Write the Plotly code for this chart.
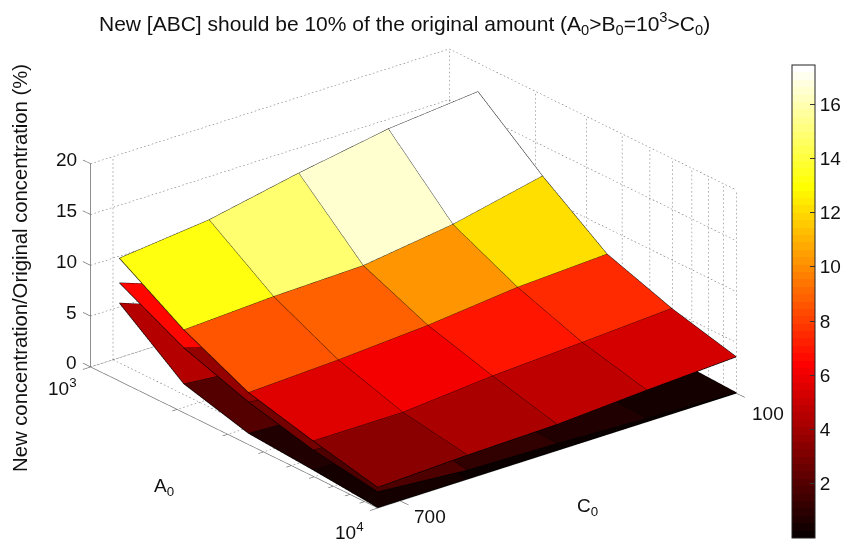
import math
import numpy as np
import plotly.graph_objects as go

# ---------- data ----------
A_nodes = [1259, 2113, 3548, 5957, 10000]
C_nodes = [740, 580, 420, 260, 100]
Z_top = [[12.09, 13.04, 14.81, 16.34, 17.18],
         [8.16, 8.61, 8.83, 10.06, 12.00],
         [5.11, 5.50, 6.08, 7.00, 7.44],
         [3.48, 3.47, 4.22, 4.70, 5.22],
         [2.04, 2.39, 2.58, 3.13, 3.58]]
Z_mid = [[9.66, 6.54, 4.60, 3.20, 2.40],
         [6.38, 3.70, 2.50, 1.80, 1.20],
         [4.19, 2.80, 1.90, 1.20, 0.70],
         [2.59, 1.90, 1.10, 0.70, 0.35],
         [1.60, 0.90, 0.70, 0.34, 0.05]]
Z_low = [[7.68, 4.40, 2.90, 2.00, 1.50],
         [2.84, 2.00, 1.30, 0.90, 0.60],
         [1.10, 0.70, 0.50, 0.30, 0.20],
         [0.62, 0.35, 0.20, 0.12, 0.08],
         [0.05, 0.04, 0.03, 0.02, 0.01]]
z_ticks = [0, 5, 10, 15, 20]
A_ticks = [1000, 2000, 3000, 4000, 5000, 6000, 7000, 8000, 9000, 10000]
C_ticks = [700, 100]
cbar_ticks = [2, 4, 6, 8, 10, 12, 14, 16]
TITLE = "New [ABC] should be 10% of the original amount (A<sub>0</sub>>B<sub>0</sub>=10<sup>3</sup>>C<sub>0</sub>)"
ZLABEL = "New concentration/Original concentration (%)"
CMIN, CMAX = 0.0, 17.44
C_LO, C_HI = 100, 740
A_LO, A_HI = 1000, 10000

# ---------- MATLAB hot(64) ----------
def hot64():
    n = 64; m = 24
    out = []
    for k in range(n):
        r = min((k + 1) / m, 1)
        g = min(max((k + 1 - m) / m, 0), 1)
        b = min(max((k + 1 - 2 * m) / (n - 2 * m), 0), 1)
        c = f"rgb({round(r*255)},{round(g*255)},{round(b*255)})"
        out += [[k / n, c], [(k + 1) / n, c]]
    return out
HOT = hot64()

fig = go.Figure()
GRID = "#666666"; AXC = "#6a6a6a"

def seg(segs, color, width):
    xs, ys, zs = [], [], []
    for (p, q) in segs:
        xs += [p[0], q[0], None]; ys += [p[1], q[1], None]; zs += [p[2], q[2], None]
    fig.add_trace(go.Scatter3d(x=xs, y=ys, z=zs, mode="lines", line=dict(color=color, width=width),
                               hoverinfo="skip", showlegend=False))

def dotted(p, q, period=4.0, on=0.4):
    """Split a grid line into short pieces so it reads as MATLAB's dotted style."""
    fc = (q[0] - p[0]) / (C_HI - C_LO)
    fa = (math.log10(q[1]) - math.log10(p[1]))
    fz = (q[2] - p[2]) / 20
    dx = -359 * fc + 287 * fa
    dy = 115 * fc + 141 * fa - 203 * fz
    n = max(int(math.hypot(dx, dy) / period), 1)
    out = []
    for k in range(n):
        t0, t1 = k / n, (k + on) / n
        def at(t):
            return (p[0] + (q[0] - p[0]) * t,
                    10 ** (math.log10(p[1]) + fa * t),
                    p[2] + (q[2] - p[2]) * t)
        out.append((at(t0), at(t1)))
    return out

# dotted walls and floor
grid = []
for z in z_ticks:
    grid += dotted((C_HI, A_LO, z), (C_LO, A_LO, z))
    grid += dotted((C_LO, A_LO, z), (C_LO, A_HI, z))
for a in A_ticks:
    grid += dotted((C_LO, a, 0), (C_LO, a, 20))
    grid += dotted((C_LO, a, 0), (C_HI, a, 0))
for c in C_ticks:
    grid += dotted((c, A_LO, 0), (c, A_LO, 20))
    grid += dotted((c, A_LO, 0), (c, A_HI, 0))
seg(grid, GRID, 1)

# surfaces
first = True
for Z in (Z_low, Z_mid, Z_top):
    Z = np.array(Z)
    nr, nc = Z.shape
    X, Y = np.meshgrid(C_nodes, A_nodes)
    I, J, K, V = [], [], [], []
    for r in range(nr - 1):
        for c in range(nc - 1):
            a = r * nc + c; b = a + 1; d = a + nc; e = d + 1
            I += [a, a]; J += [b, e]; K += [e, d]
            V += [Z[r, c + 1]] * 2
    tr = dict(x=X.ravel(), y=Y.ravel(), z=Z.ravel(), i=I, j=J, k=K, intensity=V,
              intensitymode="cell", colorscale=HOT, cmin=CMIN, cmax=CMAX, flatshading=True,
              lighting=dict(ambient=1, diffuse=0, specular=0, roughness=1, fresnel=0),
              hoverinfo="skip", showscale=first)
    if first:
        tr["colorbar"] = dict(x=792/843, xanchor="left", xpad=0, ypad=0,
                              y=1-301.5/542, yanchor="middle",
                              thicknessmode="pixels", thickness=23, lenmode="pixels", len=473,
                              tickvals=cbar_ticks, ticks="inside", ticklen=5, tickcolor="#333",
                              outlinecolor="#222", outlinewidth=1,
                              tickfont=dict(family="Liberation Sans", size=19, color="#111"))
    fig.add_trace(go.Mesh3d(**tr))
    first = False
    mesh = []
    for r in range(nr):
        for c in range(nc - 1):
            mesh.append(((C_nodes[c], A_nodes[r], Z[r, c]), (C_nodes[c+1], A_nodes[r], Z[r, c+1])))
    for c in range(nc):
        for r in range(nr - 1):
            mesh.append(((C_nodes[c], A_nodes[r], Z[r, c]), (C_nodes[c], A_nodes[r+1], Z[r+1, c])))
    seg(mesh, "#000000", 1.4)

# axis lines and ticks
ax = [((C_HI, A_LO, 0), (C_HI, A_LO, 20)),
      ((C_HI, A_LO, 0), (C_HI, A_HI, 0)),
      ((C_HI, A_HI, 0), (C_LO, A_HI, 0))]
for z in z_ticks:
    ax.append(((C_HI, A_LO, z), (C_HI, A_LO * 0.94, z)))
for a in A_ticks:
    ln = 14 if a in (A_LO, A_HI) else 9
    ax.append(((C_HI, a, 0), (C_HI + ln, a, 0)))
for c in C_ticks:
    ax.append(((c, A_HI, 0), (c, A_HI * 1.07, 0)))
seg(ax, AXC, 1.3)

font = dict(family="Liberation Sans", size=19, color="#111")
ann3d = []
for z in z_ticks:
    ann3d.append(dict(x=C_HI, y=3, z=z, text=str(z), showarrow=False, xanchor="right",
                      yanchor="middle", xshift=-12, yshift=4, font=font))
ann3d.append(dict(x=C_HI, y=3, z=0, text="10<sup>3</sup>", showarrow=False, xanchor="right",
                  yanchor="middle", xshift=-12, yshift=-20, font=font))
ann3d.append(dict(x=C_HI, y=4, z=0, text="10<sup>4</sup>", showarrow=False, xanchor="right",
                  yanchor="middle", xshift=-12, yshift=-23, font=font))
ann3d.append(dict(x=700, y=4, z=0, text="700", showarrow=False, xanchor="left",
                  yanchor="middle", xshift=12, yshift=-16, font=font))
ann3d.append(dict(x=C_LO, y=4, z=0, text="100", showarrow=False, xanchor="left",
                  yanchor="middle", xshift=14, yshift=-20, font=font))

hidden = dict(visible=False, showgrid=False, zeroline=False, showspikes=False, showbackground=False)
S = 1.735
scene = dict(
    domain=dict(x=[0, 827/843], y=[0, 527/542]),
    xaxis=dict(range=[C_LO - 40, C_HI + 40], **hidden),
    yaxis=dict(type="log", range=[3 - 0.08, 4 + 0.08], **hidden),
    zaxis=dict(range=[-1, 21], **hidden),
    aspectmode="manual",
    aspectratio=dict(x=S * 1.008 * 720 / 640, y=S * 1.16, z=1.75 * 0.48 * 22 / 20),
    camera=dict(eye=dict(x=0.5766 * 2, y=0.7143 * 2, z=0.3967 * 2), up=dict(x=0, y=0, z=1),
                center=dict(x=0, y=0, z=0), projection=dict(type="orthographic")),
    annotations=ann3d,
)

cb_top, cb_bot = 65, 538
def cb_y(v):
    px = cb_bot - (v - CMIN) / (CMAX - CMIN) * (cb_bot - cb_top)
    return 1 - px / 542
shapes = [dict(type="line", xref="paper", yref="paper", x0=792/843, x1=797/843, y0=cb_y(v), y1=cb_y(v),
               line=dict(color="#333", width=1)) for v in cbar_ticks]

fig.update_layout(
    width=843, height=542, margin=dict(l=0, r=0, t=0, b=0, autoexpand=False), paper_bgcolor="white",
    showlegend=False, scene=scene, shapes=shapes,
    annotations=[
        dict(xref="paper", yref="paper", x=404.5/843, y=1-24/542, text=TITLE, showarrow=False,
             xanchor="center", yanchor="middle",
             font=dict(family="Liberation Sans", size=21, color="#111")),
        dict(xref="paper", yref="paper", x=20/843, y=1-268/542, text=ZLABEL, textangle=-90, showarrow=False,
             xanchor="center", yanchor="middle",
             font=dict(family="Liberation Sans", size=20.3, color="#111")),
        dict(xref="paper", yref="paper", x=164/843, y=1-487/542, text="A<sub>0</sub>", showarrow=False,
             xanchor="center", yanchor="middle", font=font),
        dict(xref="paper", yref="paper", x=587/843, y=1-507/542, text="C<sub>0</sub>", showarrow=False,
             xanchor="center", yanchor="middle", font=font),
    ],
)
fig.write_html("out.html", config=dict(displayModeBar=False),
               post_script="document.body.style.margin='0';document.body.style.overflow='hidden';")
